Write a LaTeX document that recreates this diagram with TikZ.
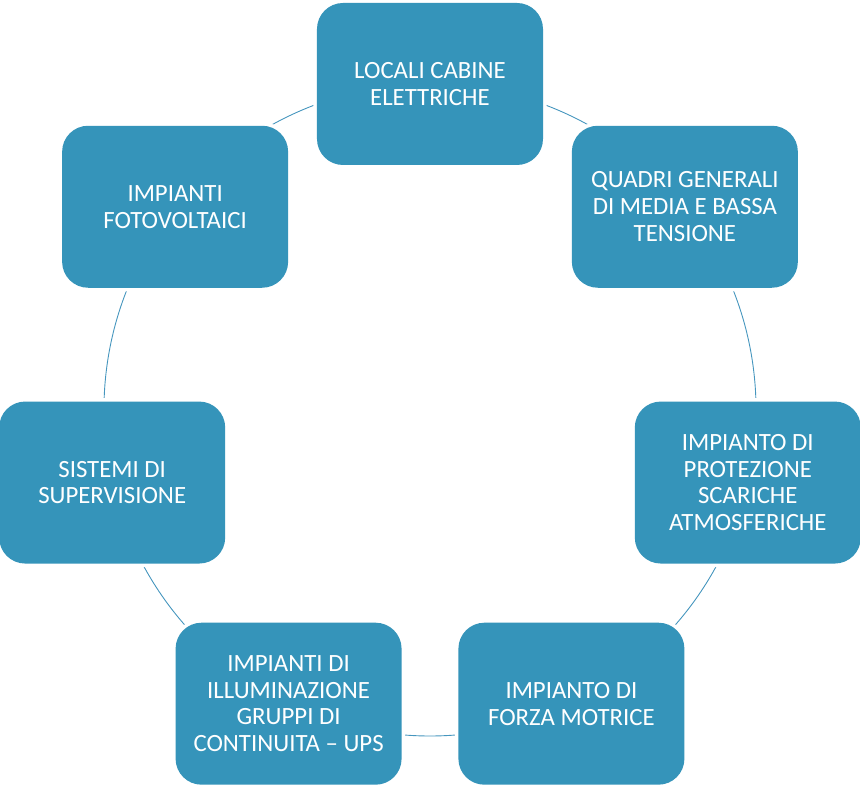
\documentclass[tikz,border=0pt]{standalone}
\usepackage{fontspec}
\setmainfont{Carlito}
\usetikzlibrary{positioning,backgrounds}
\definecolor{boxblue}{RGB}{53,148,186}
\definecolor{ringblue}{RGB}{70,150,190}

\begin{document}
\begin{tikzpicture}[
	    stage box/.style={
	         rectangle,
	         rounded corners = 26pt,
	         minimum width = 226pt,
	         minimum height = 162pt,
	         fill = boxblue,
	         text = white,
	         align = center,
	         font = \fontsize{24.8pt}{26.8pt}\selectfont,
	         preaction = {
	             draw = white,
	             line width = 7pt,
	         },
	    },
	    ring link/.style={
	         draw = ringblue,
	         line width = 0.9pt,
	         bend left = 25.71,
	         looseness = 0.9,
	    },
	]

	\useasboundingbox (-430pt,-384pt) rectangle (430pt,410pt);

	\node[stage box] (locali) at (90:326pt) {LOCALI CABINE\\ELETTRICHE};
	\node[stage box] (quadri) at (38.57:326pt) {QUADRI GENERALI\\DI MEDIA E BASSA\\TENSIONE};
	\node[stage box] (protezione) at (-12.86:326pt) {IMPIANTO DI\\PROTEZIONE\\SCARICHE\\ATMOSFERICHE};
	\node[stage box] (forza) at (-64.29:326pt) {IMPIANTO DI\\FORZA MOTRICE};
	\node[stage box] (illuminazione) at (-115.71:326pt) {IMPIANTI DI\\ILLUMINAZIONE\\GRUPPI DI\\CONTINUITA -- UPS};
	\node[stage box] (supervisione) at (-167.14:326pt) {SISTEMI DI\\SUPERVISIONE};
	\node[stage box] (fotovoltaici) at (141.43:326pt) {IMPIANTI\\FOTOVOLTAICI};

	\begin{scope}[on background layer]
	\draw[ring link] (locali.center) to (quadri.center);
	\draw[ring link] (quadri.center) to (protezione.center);
	\draw[ring link] (protezione.center) to (forza.center);
	\draw[ring link] (forza.center) to (illuminazione.center);
	\draw[ring link] (illuminazione.center) to (supervisione.center);
	\draw[ring link] (supervisione.center) to (fotovoltaici.center);
	\draw[ring link] (fotovoltaici.center) to (locali.center);
	\end{scope}

\end{tikzpicture}
\end{document}
